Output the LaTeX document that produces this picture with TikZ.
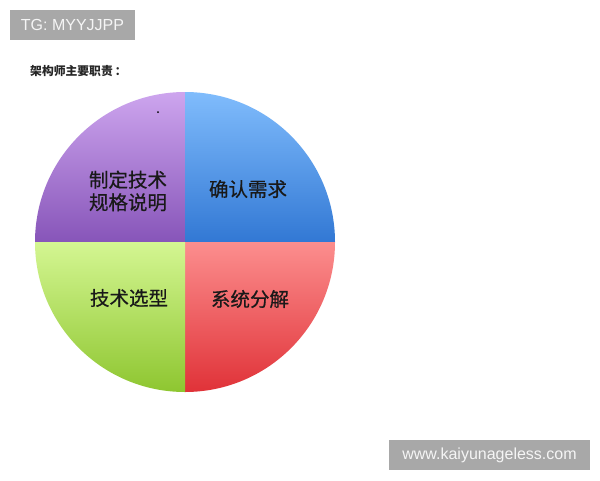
\documentclass[tikz,border=0pt]{standalone}
\usepackage{fontspec}
\setmainfont{Liberation Sans}
\newfontfamily\cjk{Noto Sans CJK SC}
\newfontfamily\cjkmid[FakeBold=0.6]{Noto Sans CJK SC}
\usetikzlibrary{positioning}

\definecolor{tagGray}{RGB}{168,168,168}
\definecolor{purpleTop}{RGB}{205,165,238}
\definecolor{purpleBot}{RGB}{135,85,185}
\definecolor{blueTop}{RGB}{128,188,252}
\definecolor{blueBot}{RGB}{50,120,212}
\definecolor{greenTop}{RGB}{212,246,146}
\definecolor{greenBot}{RGB}{142,198,48}
\definecolor{redTop}{RGB}{252,142,142}
\definecolor{redBot}{RGB}{224,50,56}

\tikzset{
  tagbox/.style={fill=tagGray, text=white!96!black, inner sep=0pt, font=\fontsize{16}{18}\selectfont},
  duty/.style={align=center, text=black!90, font=\cjkmid\fontsize{19.5}{22.5}\selectfont}
}

\begin{document}
\begin{tikzpicture}[x=1pt, y=-1pt]
        \useasboundingbox (0,0) rectangle (600,480);
        \fill[white] (0,0) rectangle (600,480);

        \node[tagbox, minimum width=125pt, minimum height=30pt] at (72.5, 25)  (tg) {TG: MYYJJPP};
        \node[anchor=west, inner sep=0pt, text=black!85, font=\cjk\bfseries\fontsize{11.8}{14}\selectfont] at (30, 71) (title) {架构师主要职责\,：};

        \coordinate (c) at (185, 242);
        \shade[top color=purpleTop, bottom color=purpleBot] (c) -- ++(-150,0) arc[start angle=180, end angle=270, radius=150] -- cycle;
        \shade[top color=blueTop, bottom color=blueBot] (c) -- ++(0,-150) arc[start angle=270, end angle=360, radius=150] -- cycle;
        \shade[top color=redTop, bottom color=redBot] (c) -- ++(150,0) arc[start angle=0, end angle=90, radius=150] -- cycle;
        \shade[top color=greenTop, bottom color=greenBot] (c) -- ++(0,150) arc[start angle=90, end angle=180, radius=150] -- cycle;
        \fill[black] (158, 112) circle (1);

        \node[duty] at (128, 191) (spec) {制定技术\\规格说明};
        \node[duty] at (248, 189) (need) {确认需求};
        \node[duty] at (129, 298) (tech) {技术选型};
        \node[duty] at (250, 299) (split) {系统分解};

        \node[tagbox, minimum width=201pt, minimum height=30pt] at (489.5, 455) (url) {www.kaiyunageless.com};
    \end{tikzpicture}
\end{document}
